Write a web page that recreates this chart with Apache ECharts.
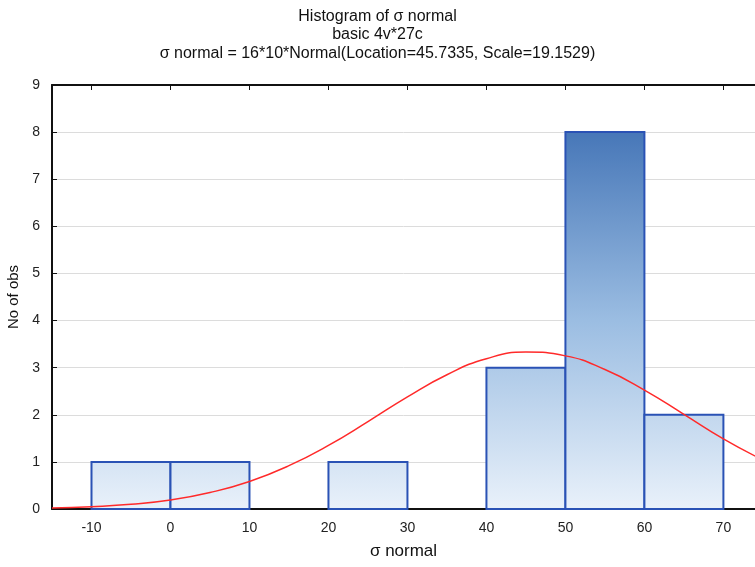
<!DOCTYPE html>
<html>
<head>
<meta charset="utf-8">
<script src="https://cdn.jsdelivr.net/npm/echarts@6/dist/echarts.min.js"></script>
<style>
html,body{margin:0;padding:0;background:#fff;}
#chart{width:755px;height:567px;}
</style>
</head>
<body>
<div id="chart"></div>
<script>
// Histogram bins (lower edge, upper edge) and counts
const binStarts = [-10, 0, 10, 20, 30, 40, 50, 60];
const binEnds   = [0, 10, 20, 30, 40, 50, 60, 70];
const counts    = [1, 1, 0, 1, 0, 3, 8, 2];

// Fitted normal curve
const curveX = [-15, -10, -5, 0, 5, 10, 15, 20, 25, 30, 35, 40, 45, 50, 55, 60, 65, 70, 75];
const curveY = [0.02, 0.05, 0.10, 0.19, 0.35, 0.585, 0.92, 1.35, 1.855, 2.38, 2.85, 3.19, 3.33, 3.25, 2.96, 2.525, 2.01, 1.49, 1.04];

const xTicks = [-10, 0, 10, 20, 30, 40, 50, 60, 70];

const titleLines = ['Histogram of σ normal', 'basic 4v*27c', 'σ normal = 16*10*Normal(Location=45.7335, Scale=19.1529)'];

const histData = binStarts.map((s, i) => [s, binEnds[i], counts[i]]);
const curveData = curveX.map((x, i) => [x, curveY[i]]);

const chart = echarts.init(document.getElementById('chart'));

const barFill = {
  type: 'linear', x: 0, y: 132, x2: 0, y2: 509, global: true,
  colorStops: [
    {offset: 0, color: '#4777b8'},
    {offset: 0.5, color: '#9bbde2'},
    {offset: 1, color: '#e9f1fa'}
  ]
};

const font = 'Liberation Sans';

const option = {
  backgroundColor: '#ffffff',
  animation: false,
  title: {
    text: titleLines.join('\n'),
    left: 'center',
    top: 2,
    textStyle: {fontFamily: font, fontSize: 16, fontWeight: 'normal', color: '#111', lineHeight: 18.5}
  },
  grid: {left: 52, right: 0, top: 85, bottom: 58, containLabel: false, outerBoundsMode: 'none'},
  xAxis: [{
    type: 'value', min: -15, max: 74,
    name: 'σ normal', nameLocation: 'middle', nameGap: 34,
    nameTextStyle: {fontFamily: font, fontSize: 17, color: '#111'},
    axisLine: {show: true, onZero: false, lineStyle: {color: '#111', width: 2}},
    axisTick: {show: true, inside: true, length: 5, customValues: xTicks, lineStyle: {color: '#111'}},
    axisLabel: {customValues: xTicks, margin: 12, fontFamily: font, fontSize: 14, color: '#222'},
    splitLine: {show: false}
  }, {
    type: 'value', min: -15, max: 74, position: 'top',
    axisLine: {show: true, onZero: false, lineStyle: {color: '#111', width: 2}},
    axisTick: {show: true, inside: true, length: 5, customValues: xTicks, lineStyle: {color: '#111'}},
    axisLabel: {show: false},
    splitLine: {show: false}
  }],
  yAxis: {
    type: 'value', min: 0, max: 9, interval: 1,
    name: 'No of obs', nameLocation: 'middle', nameGap: 30,
    nameTextStyle: {fontFamily: font, fontSize: 15, color: '#111'},
    axisLine: {show: true, onZero: false, lineStyle: {color: '#111', width: 2}},
    axisTick: {show: true, inside: true, length: 5, lineStyle: {color: '#111'}},
    axisLabel: {margin: 12, fontFamily: font, fontSize: 14, color: '#222'},
    splitLine: {show: true, lineStyle: {color: '#dcdcdc', width: 1}}
  },
  series: [
    {
      type: 'custom',
      data: histData,
      encode: {x: [0, 1], y: 2},
      renderItem: function (params, api) {
        const v = api.value(2);
        if (!v) return null;
        const p0 = api.coord([api.value(0), 0]);
        const p1 = api.coord([api.value(1), v]);
        return {
          type: 'rect',
          shape: {x: p0[0], y: p1[1], width: p1[0] - p0[0], height: p0[1] - p1[1]},
          style: {fill: barFill, stroke: '#2a52b5', lineWidth: 2}
        };
      },
      z: 2
    },
    {
      type: 'line',
      data: curveData,
      smooth: true,
      showSymbol: false,
      clip: true,
      lineStyle: {color: '#ff2a2a', width: 1.5},
      z: 5
    }
  ]
};

chart.setOption(option);
</script>
</body>
</html>
